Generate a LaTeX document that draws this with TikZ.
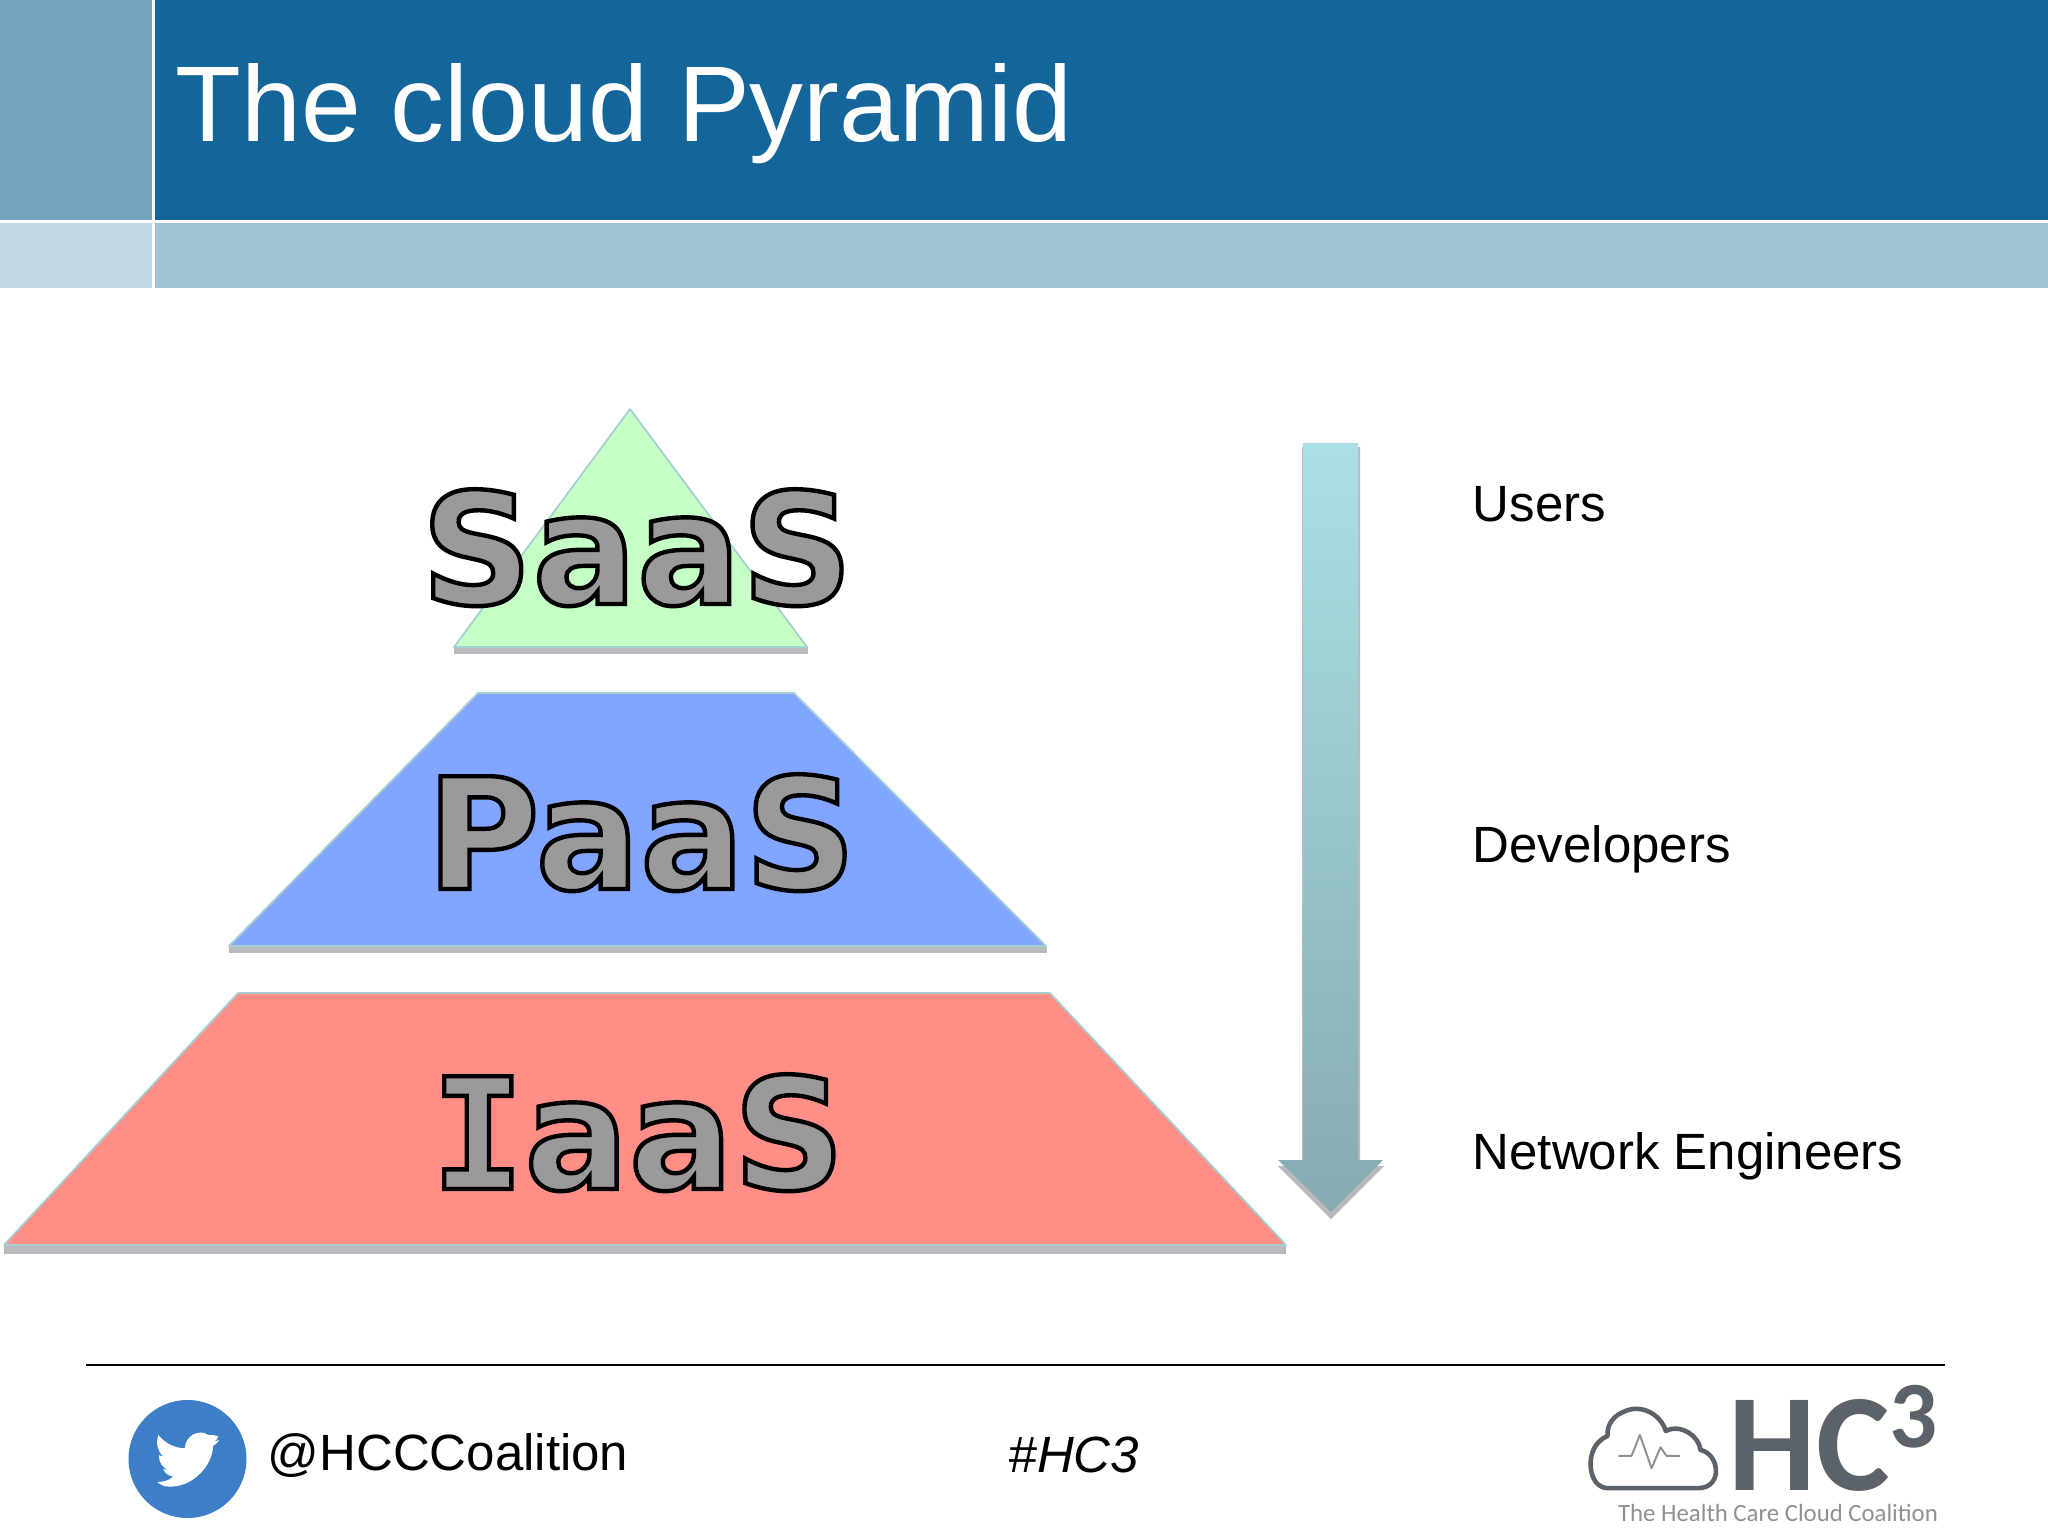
\documentclass[tikz,border=0pt]{standalone}
\usepackage{fontspec}
\setmainfont{Liberation Sans}
\newfontfamily\tierfont{DejaVu Sans}
\newfontfamily\tierbarfont{DejaVu Sans Mono}
\newfontfamily\logofont{Carlito}
\usepackage{tikz}
\definecolor{headdark}{RGB}{20,102,154}
\definecolor{headmid}{RGB}{117,164,193}
\definecolor{bandpale}{RGB}{197,217,229}
\definecolor{bandmid}{RGB}{161,194,213}
\definecolor{saasgreen}{RGB}{198,255,198}
\definecolor{paasblue}{RGB}{130,165,255}
\definecolor{iaasred}{RGB}{255,142,135}
\definecolor{edgeteal}{RGB}{165,207,208}
\definecolor{shadowgray}{RGB}{186,186,190}
\definecolor{tiergray}{RGB}{154,154,154}
\definecolor{arrowtop}{RGB}{170,224,228}
\definecolor{arrowend}{RGB}{134,171,176}
\definecolor{twitterblue}{RGB}{61,127,198}
\definecolor{logogray}{RGB}{92,98,105}
\definecolor{logopale}{RGB}{140,145,150}
\pgfdeclarelayer{edgelayer}
\pgfdeclarelayer{nodelayer}
\pgfsetlayers{main,edgelayer,nodelayer}
\newcommand{\tiertext}[1]{\special{pdf:code 0 0 0 RG 2 Tr 1.25 w}#1\special{pdf:code 0 Tr}}
\tikzstyle{title}=[anchor=west,inner sep=0pt,text=white,font=\fontsize{30.6}{36}\selectfont]
\tikzstyle{role}=[anchor=west,inner sep=0pt,text=black,font=\fontsize{14.5}{18}\selectfont]
\tikzstyle{foot}=[anchor=west,inner sep=0pt,text=black]
\tikzstyle{tier}=[anchor=base,inner sep=0pt,text=tiergray,font=\fontsize{44}{50}\tierfont\bfseries\selectfont]
\tikzstyle{slab}=[draw=edgeteal,line width=0.5pt,line join=round]
\tikzstyle{slabshadow}=[fill=shadowgray,draw=none]
\tikzstyle{logo}=[inner sep=0pt,text=logogray,font=\logofont\bfseries]
\begin{document}
\begin{tikzpicture}[x=0.01cm,y=-0.01cm]
    \useasboundingbox (0,0) rectangle (2048,1536);
    \fill [white] (0,0) rectangle (2048,1536);

    % header bands
    \fill [headmid] (0,0) rectangle (152,220);
    \fill [headdark] (155,0) rectangle (2048,220);
    \fill [bandpale] (0,223) rectangle (152,288);
    \fill [bandmid] (155,223) rectangle (2048,288);

    \begin{pgfonlayer}{edgelayer}
        \fill [slabshadow] (454,647) rectangle (808,654);
        \fill [slabshadow] (229,946) rectangle (1047,953);
        \fill [slabshadow] (4,1245) rectangle (1286,1254);
        \fill [shadowgray] (1302,447) -- (1360,447) -- (1360,1166) -- (1384,1166) -- (1331,1219) -- (1278,1166) -- (1302,1166) -- cycle;

        \fill [slab,fill=saasgreen] (630,409) -- (807,647) -- (454,647) -- cycle;
        \fill [slab,fill=paasblue] (478,693) -- (794,693) -- (1046,946) -- (229,946) -- cycle;
        \fill [slab,fill=iaasred] (238,993) -- (1050,993) -- (1286,1245) -- (4,1245) -- cycle;
        \shade [top color=arrowtop,bottom color=arrowend] (1303,443) -- (1358,443) -- (1358,1160) -- (1383,1160) -- (1331,1212) -- (1278,1160) -- (1303,1160) -- cycle;

        % footer rule
        \draw [black,line width=0.4pt] (86,1365) -- (1945,1365);
    \end{pgfonlayer}

    \begin{pgfonlayer}{nodelayer}
        \node [style = title] (heading) at (175,114) {The cloud Pyramid};

        \node [style = tier] (saas) at (637,604) {\tiertext{SaaS}};
        \node [style = tier] (paas) at (641,889) {\tiertext{PaaS}};
        \node [style = tier] (iaas) at (638,1189) {\tiertext{{\tierbarfont I}aaS}};

        \node [style = role] (users) at (1472,504) {Users};
        \node [style = role] (developers) at (1472,849) {Developers};
        \node [style = role] (engineers) at (1472,1156) {Network Engineers};

        \node [style = foot,font=\fontsize{14.5}{18}\selectfont] (handle) at (267,1456) {@HCCCoalition};
        \node [style = foot,font=\fontsize{14.5}{18}\itshape\selectfont] (hashtag) at (1008,1455) {\#HC3};

        % twitter badge
        \fill [twitterblue] (187.5,1459) circle (59);
        \begin{scope}[shift={(100,1380)},x=0.00333cm,y=-0.00333cm]
            \fill [white] (175,165) .. controls (195,190) and (225,205) .. (255,205)
                .. controls (255,170) and (295,145) .. (325,165)
                .. controls (335,165) and (345,165) .. (356,170)
                .. controls (352,178) and (348,182) .. (342,186)
                -- (358,180) .. controls (352,190) and (346,194) .. (340,198)
                .. controls (338,260) and (275,325) .. (205,320)
                .. controls (195,320) and (182,316) .. (172,306)
                .. controls (190,307) and (208,302) .. (220,290)
                .. controls (208,288) and (196,282) .. (190,268)
                -- (203,270) .. controls (188,262) and (177,248) .. (177,226)
                -- (190,230) .. controls (172,212) and (168,190) .. (175,165) -- cycle;
        \end{scope}

        % logo
        \begin{scope}[shift={(1570,1370)},x=0.00333cm,y=-0.00333cm]
            \draw [logogray,line width=1.3pt,line join=round]
                (115,355) -- (385,355)
                .. controls (425,355) and (442,325) .. (438,295)
                .. controls (434,262) and (412,245) .. (392,240)
                .. controls (388,200) and (335,160) .. (288,183)
                .. controls (270,130) and (215,105) .. (170,122)
                .. controls (130,135) and (110,165) .. (113,198)
                .. controls (75,215) and (60,250) .. (62,290)
                .. controls (65,330) and (85,355) .. (115,355) -- cycle;
            \draw [logopale,line width=0.55pt,line join=round]
                (145,258) -- (185,258) -- (210,195) -- (245,295) -- (272,232) -- (290,258) -- (330,258);
        \end{scope}
        \node [style = logo,anchor=base west,font=\fontsize{39.5}{44}\logofont\bfseries\selectfont] (hc) at (1728,1490) {HC\raisebox{12pt}{\fontsize{27}{30}\selectfont 3}};
        \node [style = logo,text=logopale,font=\fontsize{7.05}{9}\logofont\selectfont] (coalition) at (1778,1513) {The Health Care Cloud Coalition};
    \end{pgfonlayer}
\end{tikzpicture}
\end{document}
